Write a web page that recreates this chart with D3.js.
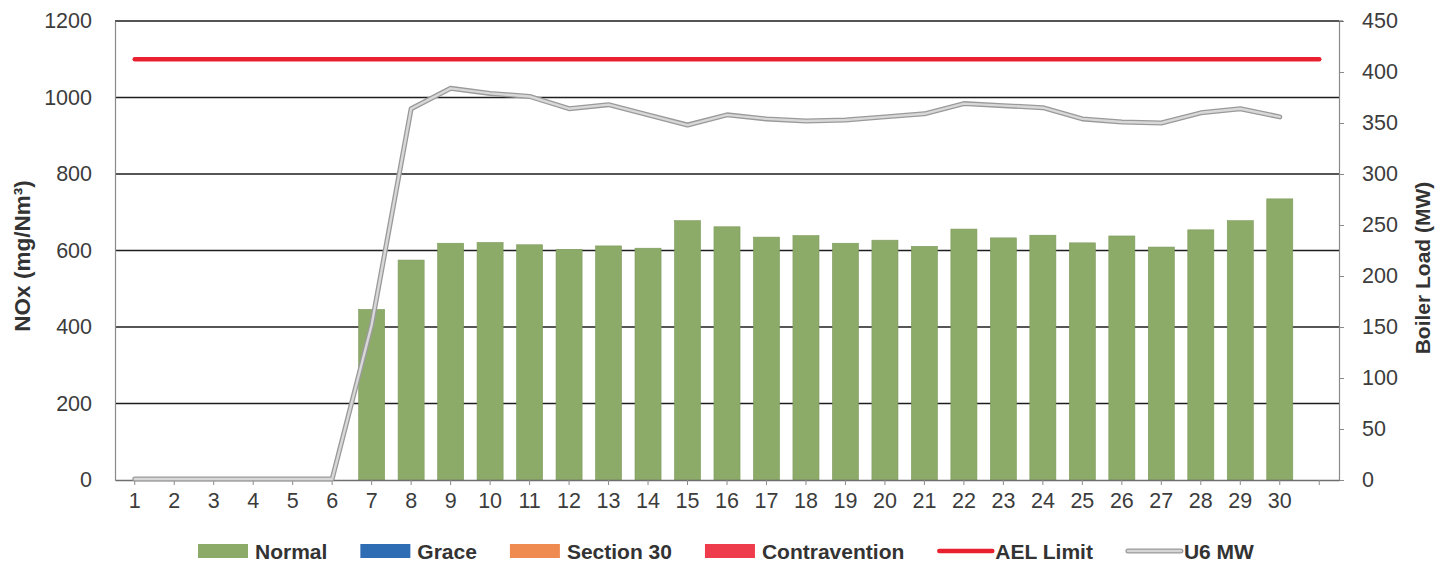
<!DOCTYPE html>
<html>
<head>
<meta charset="utf-8">
<script src="https://cdn.jsdelivr.net/npm/d3@7"></script>
<style>
  html, body { margin: 0; padding: 0; background: #fff; }
  svg { display: block; font-family: "Liberation Sans", Arial, sans-serif; }
</style>
</head>
<body>
<svg id="chart" width="1451" height="564"></svg>
<script>
// Day slots on the x axis (the last slot is left unlabeled)
const dayLabels = ["1","2","3","4","5","6","7","8","9","10","11","12","13","14","15",
  "16","17","18","19","20","21","22","23","24","25","26","27","28","29","30",""];

// Daily NOx (mg/Nm³), all in the Normal band
const noxNormal = [0,0,0,0,0,0,446,575,619,621,615,603,612,606,678,
  662,635,639,619,627,611,656,633,640,620,638,609,654,678,735];

// Unit 6 boiler load (MW)
const u6MW = [1,1,1,1,1,1,152,364,384,379,376,364,368,358,348,
  358,354,352,353,356,359,369,367,365,354,351,350,360,364,356];

// AEL limit (mg/Nm³), across every slot
const aelLimit = [1100,1100,1100,1100,1100,1100,1100,1100,1100,1100,1100,1100,1100,1100,1100,1100,
  1100,1100,1100,1100,1100,1100,1100,1100,1100,1100,1100,1100,1100,1100,1100];

const leftTicks = [0,200,400,600,800,1000,1200];
const rightTicks = [0,50,100,150,200,250,300,350,400,450];

const legendItems = [
  { name: "Normal", type: "box", color: "#8dab68" },
  { name: "Grace", type: "box", color: "#2e6db4" },
  { name: "Section 30", type: "box", color: "#ef8b50" },
  { name: "Contravention", type: "box", color: "#ee3c4d" },
  { name: "AEL Limit", type: "red", color: "#e8202f" },
  { name: "U6 MW", type: "gray", color: "#d6d6d6" }
];

const svg = d3.select("#chart");
const L = 115, R = 1339, T = 21, B = 480;
const fmt = d3.format("d");

const x = d3.scaleBand().domain(d3.range(dayLabels.length)).range([L, R]).paddingInner(0.34).paddingOuter(0.17);
const xc = i => x(i) + x.bandwidth() / 2;
const yL = d3.scaleLinear().domain([0, 1200]).range([B, T]);
const yR = d3.scaleLinear().domain([0, 450]).range([B, T]);

// horizontal gridlines
svg.append("g").selectAll("line").data(leftTicks.filter(v => v > 0)).join("line")
  .attr("x1", L).attr("x2", R)
  .attr("y1", d => yL(d)).attr("y2", d => yL(d))
  .attr("stroke", "#1e1e1e").attr("stroke-width", 1.4);

// bars
svg.append("g").selectAll("rect").data(noxNormal.map((v, i) => ({ v, i })).filter(d => d.v > 0)).join("rect")
  .attr("x", d => x(d.i)).attr("width", x.bandwidth())
  .attr("y", d => yL(d.v)).attr("height", d => yL(0) - yL(d.v))
  .attr("fill", "#8dab68").attr("stroke", "#7d9a5c").attr("stroke-width", 0.6);

// left axis
const axL = svg.append("g").attr("transform", `translate(${L},0)`)
  .call(d3.axisLeft(yL).tickValues(leftTicks).tickFormat(fmt).tickSize(0).tickPadding(23));
axL.select(".domain").attr("stroke", "#8a8a8a").attr("stroke-width", 1.2);
axL.selectAll("text").attr("font-size", 21.5).attr("fill", "#3c3c3c").attr("font-family", "Liberation Sans, Arial, sans-serif");

// right axis
const axR = svg.append("g").attr("transform", `translate(${R},0)`)
  .call(d3.axisRight(yR).tickValues(rightTicks).tickFormat(fmt).tickSize(5).tickPadding(18));
axR.select(".domain").attr("stroke", "#8a8a8a").attr("stroke-width", 1.2);
axR.selectAll(".tick line").attr("stroke", "#8a8a8a");
axR.selectAll("text").attr("font-size", 21.5).attr("fill", "#3c3c3c").attr("font-family", "Liberation Sans, Arial, sans-serif");

// bottom axis
const axB = svg.append("g").attr("transform", `translate(0,${B})`)
  .call(d3.axisBottom(x).tickFormat(i => dayLabels[i]).tickSize(5).tickPadding(8).tickSizeOuter(0));
axB.select(".domain").attr("stroke", "#6e6e6e").attr("stroke-width", 1.4);
axB.selectAll(".tick line").attr("stroke", "#8a8a8a");
axB.selectAll("text").attr("font-size", 21.5).attr("fill", "#3c3c3c").attr("font-family", "Liberation Sans, Arial, sans-serif");

// top border line
svg.append("line").attr("x1", L).attr("x2", R + 4).attr("y1", T).attr("y2", T)
  .attr("stroke", "#555").attr("stroke-width", 1.2);

// AEL limit line
const aelLine = d3.line().x((d, i) => xc(i)).y(d => yL(d));
svg.append("path").datum(aelLimit).attr("d", aelLine)
  .attr("fill", "none").attr("stroke", "#e8202f").attr("stroke-width", 4.5).attr("stroke-linecap", "round");

// U6 MW line (outlined gray)
const mwLine = d3.line().x((d, i) => xc(i)).y(d => yR(d));
svg.append("path").datum(u6MW).attr("d", mwLine)
  .attr("fill", "none").attr("stroke", "#9a9a9a").attr("stroke-width", 5).attr("stroke-linejoin", "round").attr("stroke-linecap", "round");
svg.append("path").datum(u6MW).attr("d", mwLine)
  .attr("fill", "none").attr("stroke", "#d8d8d8").attr("stroke-width", 2.4).attr("stroke-linejoin", "round").attr("stroke-linecap", "round");

// axis titles
svg.append("text").attr("transform", "translate(30,256) rotate(-90)")
  .attr("text-anchor", "middle").attr("font-size", 22.5).attr("font-weight", "bold").attr("fill", "#333")
  .text("NOx (mg/Nm³)");
svg.append("text").attr("transform", "translate(1430,268) rotate(-90)")
  .attr("text-anchor", "middle").attr("font-size", 21).attr("font-weight", "bold").attr("fill", "#333")
  .text("Boiler Load (MW)");

// legend
const lg = svg.append("g");
let lx = 198;
const ly = 551;
legendItems.forEach(item => {
  const g = lg.append("g");
  if (item.type === "box") {
    g.append("rect").attr("x", lx).attr("y", ly - 7).attr("width", 50).attr("height", 14).attr("fill", item.color);
  } else if (item.type === "red") {
    g.append("line").attr("x1", lx + 2).attr("x2", lx + 55).attr("y1", ly).attr("y2", ly)
      .attr("stroke", item.color).attr("stroke-width", 4.5).attr("stroke-linecap", "round");
  } else {
    g.append("line").attr("x1", lx + 2).attr("x2", lx + 55).attr("y1", ly).attr("y2", ly)
      .attr("stroke", "#9a9a9a").attr("stroke-width", 5).attr("stroke-linecap", "round");
    g.append("line").attr("x1", lx + 2).attr("x2", lx + 55).attr("y1", ly).attr("y2", ly)
      .attr("stroke", item.color).attr("stroke-width", 2.4).attr("stroke-linecap", "round");
  }
  const tx = lx + (item.type === "box" ? 57 : 58);
  const t = g.append("text").attr("x", tx).attr("y", ly + 7.5)
    .attr("font-size", 21).attr("font-weight", "bold").attr("fill", "#333").text(item.name);
  lx = tx + t.node().getComputedTextLength() + 33;
});
</script>
</body>
</html>
